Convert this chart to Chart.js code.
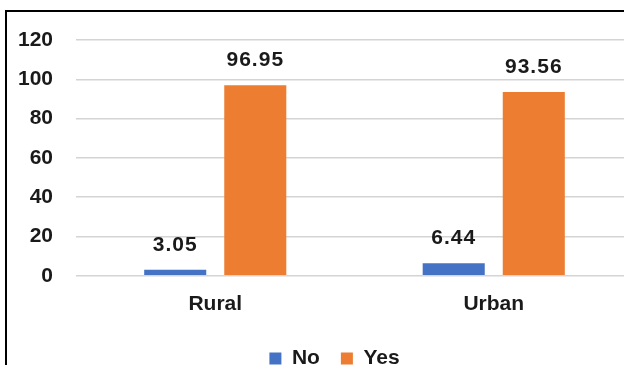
<!DOCTYPE html>
<html>
<head>
<meta charset="utf-8">
<script src="https://cdn.jsdelivr.net/npm/chart.js@4/dist/chart.umd.min.js"></script>
<style>
  html, body { margin: 0; padding: 0; background: #fff; overflow: hidden; width: 624px; height: 365px; }
  #frame { position: absolute; left: 5px; top: 10px; width: 700px; height: 500px; border: 2px solid #000; }
  #chart { position: absolute; left: 0; top: 0; }
</style>
</head>
<body>
<div id="frame"></div>
<canvas id="chart" width="640" height="379"></canvas>
<script>
// chart data
const categories = ["Rural", "Urban"];
const noValues = [3.05, 6.44];
const yesValues = [96.95, 93.56];
const seriesNames = ["No", "Yes"];

const textColor = "#1a1a1a";
const fontFamily = "'Liberation Sans', Arial, sans-serif";

// draw the value over every bar
const valueLabels = {
    id: "valueLabels",
    afterDatasetsDraw(chart) {
        const ctx = chart.ctx;
        ctx.save();
        ctx.font = "bold 21px " + fontFamily;
        ctx.letterSpacing = "1px";
        ctx.fillStyle = textColor;
        ctx.textAlign = "center";
        ctx.textBaseline = "middle";
        chart.data.datasets.forEach(function(ds, i) {
            chart.getDatasetMeta(i).data.forEach(function(bar, j) {
                ctx.fillText(ds.data[j].toFixed(2), bar.x, bar.y - 25);
            });
        });
        ctx.restore();
    }
};

// the original chart is wider than the visible part, so its legend sits right of our centre
const legendShift = {
    id: "legendShift",
    afterLayout(chart) {
        chart.legend.left += 18;
        chart.legend.right += 18;
    }
};

const ctx = document.getElementById("chart").getContext("2d");
const chart = new Chart(ctx, {
    type: "bar",
    data: {
        labels: categories,
        datasets: [
            { label: seriesNames[0], data: noValues, backgroundColor: "#4472C4" },
            { label: seriesNames[1], data: yesValues, backgroundColor: "#ED7D31" }
        ]
    },
    options: {
        responsive: false,
        animation: false,
        layout: { padding: { top: 40, left: 0, right: 7, bottom: 0 } },
        categoryPercentage: 0.575,
        barPercentage: 0.775,
        scales: {
            x: {
                grid: { display: false, drawTicks: false },
                border: { display: false },
                ticks: { color: textColor, font: { family: fontFamily, size: 21, weight: "bold" }, padding: 16 },
                afterFit: function(scale) { scale.height -= 6; }
            },
            y: {
                min: 0,
                max: 120,
                ticks: { stepSize: 20, color: textColor, font: { family: fontFamily, size: 21, weight: "bold" }, padding: 23 },
                grid: { color: "#d4d4d4", lineWidth: 1.5, drawTicks: false },
                border: { display: false },
                afterFit: function(scale) { scale.width = 76; }
            }
        },
        plugins: {
            tooltip: { enabled: false },
            legend: {
                position: "bottom",
                labels: {
                    boxWidth: 12,
                    boxHeight: 12,
                    padding: 21,
                    color: textColor,
                    font: { family: fontFamily, size: 21, weight: "bold" }
                }
            }
        }
    },
    plugins: [valueLabels, legendShift]
});
</script>
</body>
</html>
